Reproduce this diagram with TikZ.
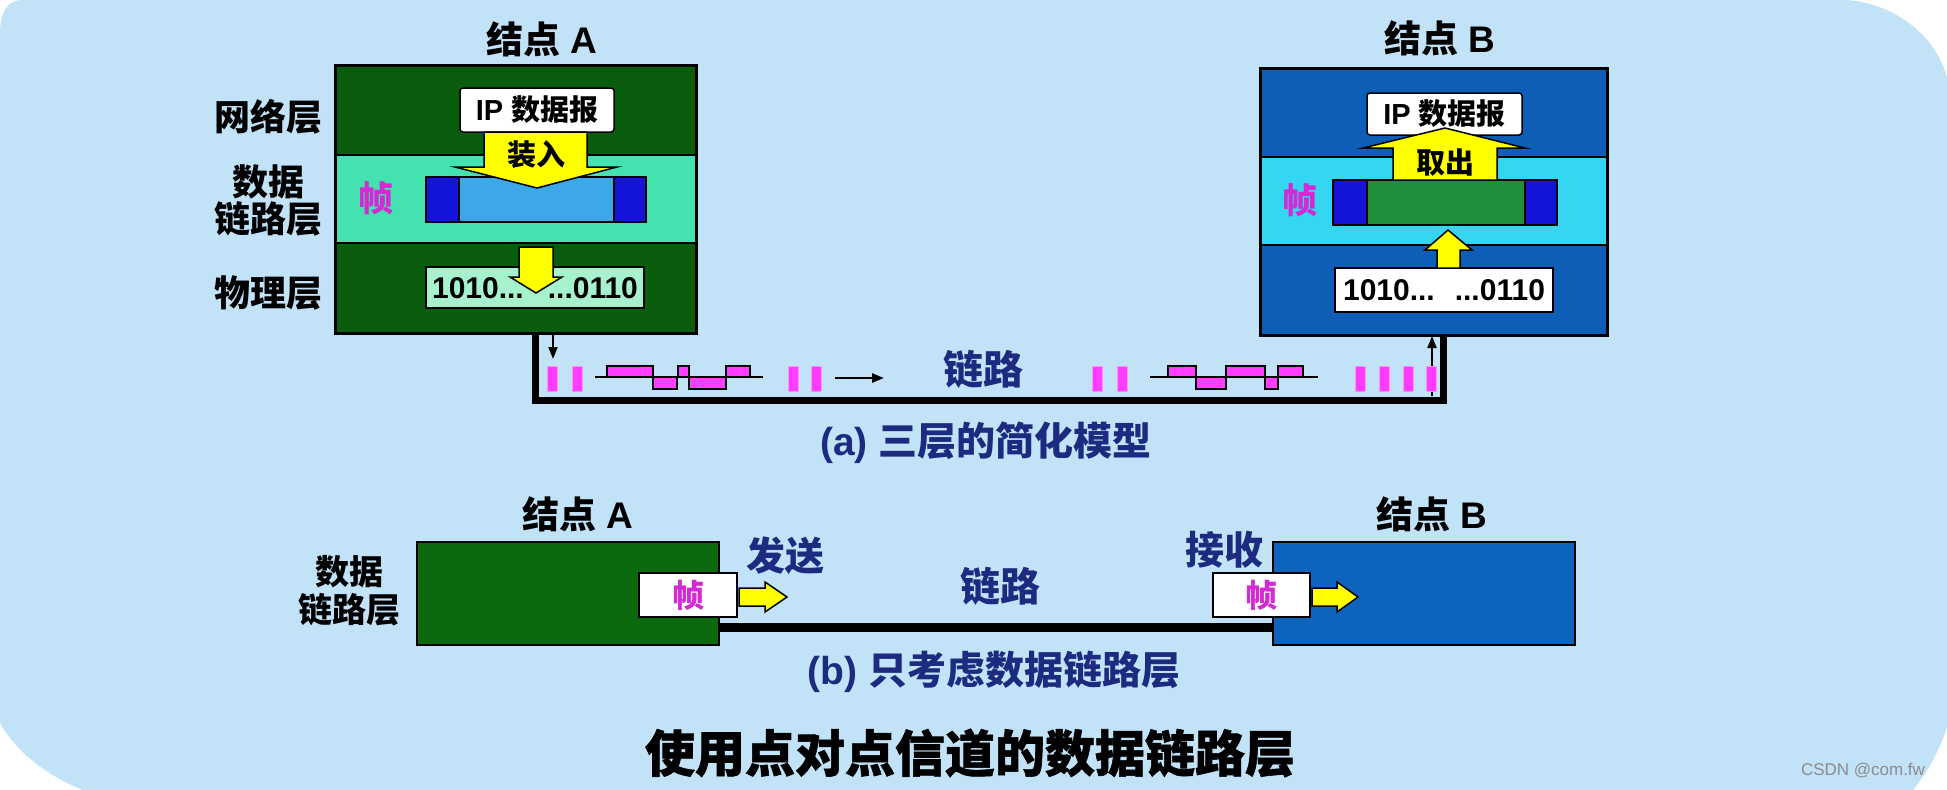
\documentclass[tikz,border=0pt]{standalone}
\usepackage{fontspec}
\setmainfont{Liberation Sans}
\newfontfamily\cjk{Noto Sans CJK SC}
\newfontfamily\cjkh{Noto Sans CJK SC}[BoldFeatures={FakeBold=1.2}]
\usetikzlibrary{arrows.meta}
\definecolor{bg}{HTML}{C2E2F8}
\definecolor{dgreen}{HTML}{0B5D0E}
\definecolor{dgreenb}{HTML}{0B6A0E}
\definecolor{aqua}{HTML}{44E2B0}
\definecolor{mint}{HTML}{A6F2CC}
\definecolor{fblue}{HTML}{3CA8E8}
\definecolor{dblue}{HTML}{1414D8}
\definecolor{nblue}{HTML}{0E5DB6}
\definecolor{nblueb}{HTML}{0E64BC}
\definecolor{cyanl}{HTML}{34D6F2}
\definecolor{fgreen}{HTML}{1F8F3C}
\definecolor{mag}{HTML}{FF3CFF}
\definecolor{magt}{HTML}{D42AD4}
\definecolor{navy}{HTML}{1C2A80}
\definecolor{yel}{HTML}{FFFF00}
\definecolor{wm}{HTML}{8C8C8C}
\newcommand\zh[1]{{\cjk #1}}
\newcommand\fs[1]{\fontsize{#1}{#1}\selectfont\bfseries}
\tikzset{
  every node/.style={inner sep=0pt, outer sep=0pt},
  lay/.style={draw=black, line width=1.5pt, anchor=north west},
  outer/.style={draw=black, line width=3pt, anchor=north west},
  lbl/.style={font=\fs{36}, text=black},
  ttl/.style={font=\fs{37}, text=black},
  blue lbl/.style={font=\fs{39}, text=navy},
  captext/.style={font=\fs{39}, text=navy},
  frm/.style={font=\fs{35}, text=magt},
  ipbox/.style={draw=black, line width=1.5pt, fill=white, rounded corners=3pt, font=\fs{29}},
  bitbox/.style={draw=black, line width=1.5pt, font=\fs{30}},
  yarrow/.style={fill=yel, draw=black, line width=1.5pt},
  part/.style={draw=black, line width=1.5pt},
  bar/.style={fill=mag, draw=mag!55!white, line width=0.8pt},
  wave/.style={fill=mag, draw=black, line width=1.5pt},
  link/.style={draw=black, line width=7pt},
  thinarrow/.style={draw=black, line width=2pt, -{Triangle[length=12pt,width=9pt]}},
}
\begin{document}
\begin{tikzpicture}[x=1pt,y=-1pt]
\useasboundingbox (0,0) rectangle (1947,790);
\fill[white] (0,0) rectangle (1947,790);
\fill[bg] (0,33) .. controls (0,12) and (8,0) .. (22,0) -- (1847,0)
  .. controls (1895,4) and (1935,35) .. (1947,77) -- (1947,727)
  .. controls (1938,755) and (1925,775) .. (1913,790) -- (83,790)
  .. controls (45,775) and (15,750) .. (0,723) -- cycle;

% ===== (a) Node A =====
\node[lay, fill=dgreen, minimum width=361pt, minimum height=90pt] (Anet) at (335,65) {};
\node[lay, fill=aqua, minimum width=361pt, minimum height=88pt] (Adl) at (335,155) {};
\node[lay, fill=dgreen, minimum width=361pt, minimum height=90pt] (Aph) at (335,243) {};
\node[outer, minimum width=361pt, minimum height=268pt] (Abox) at (335,65) {};
\node[ttl] (Atitle) at (542,39) {\zh{结点} A};
\node[lbl] (Lnet) at (268,117) {\zh{网络层}};
\node[lbl] (Ldl1) at (268,182) {\zh{数据}};
\node[lbl] (Ldl2) at (268,219) {\zh{链路层}};
\node[lbl] (Lph) at (268,293) {\zh{物理层}};
\node[ipbox, minimum width=154pt, minimum height=44pt] (Aip) at (537,110) {IP \zh{数据报}};
% frame A
\fill[dblue] (426,177) rectangle (459,222);
\fill[fblue] (459,177) rectangle (614,222);
\fill[dblue] (614,177) rectangle (646,222);
\draw[part] (459,177) -- (459,222) (614,177) -- (614,222);
\node[part, minimum width=220pt, minimum height=45pt, anchor=north west] (Afr) at (426,177) {};
\node[frm] (Afrl) at (376,198) {\zh{帧}};
% arrow 装入
\path[yarrow] (484,132) -- (587,132) -- (587,167) -- (617,167) -- (537,188) -- (455,167) -- (484,167) -- cycle;
\node[font=\fs{29}] (Ain) at (536,155) {\zh{装入}};
% bits A
\node[bitbox, fill=mint, minimum width=218pt, minimum height=41pt, anchor=north west] (Abits) at (426,267) {};
\node[font=\fs{30}] (Abitst) at (535,288) {1010...\hspace{24pt}...0110};
\path[yarrow] (519,247) -- (553,247) -- (553,277) -- (562,277) -- (536,293) -- (510,277) -- (519,277) -- cycle;

% ===== (a) Node B =====
\node[lay, fill=nblue, minimum width=347pt, minimum height=89pt] (Bnet) at (1260,68) {};
\node[lay, fill=cyanl, minimum width=347pt, minimum height=88pt] (Bdl) at (1260,157) {};
\node[lay, fill=nblue, minimum width=347pt, minimum height=90pt] (Bph) at (1260,245) {};
\node[outer, minimum width=347pt, minimum height=267pt] (Bbox) at (1260,68) {};
\node[ttl] (Btitle) at (1440,38) {\zh{结点} B};
\node[ipbox, minimum width=155pt, minimum height=42pt] (Bip) at (1444.5,114) {IP \zh{数据报}};
% frame B
\fill[dblue] (1333,180) rectangle (1367,225);
\fill[fgreen] (1367,180) rectangle (1525,225);
\fill[dblue] (1525,180) rectangle (1557,225);
\draw[part] (1367,180) -- (1367,225) (1525,180) -- (1525,225);
\node[part, minimum width=224pt, minimum height=45pt, anchor=north west] (Bfr) at (1333,180) {};
\node[frm] (Bfrl) at (1300,200) {\zh{帧}};
% arrow 取出
\path[yarrow] (1393,180) -- (1393,148) -- (1363,148) -- (1445,128) -- (1525,148) -- (1497,148) -- (1497,180) -- cycle;
\node[font=\fs{29}] (Bout) at (1445,163) {\zh{取出}};
% bits B
\node[bitbox, fill=white, minimum width=218pt, minimum height=44pt, anchor=north west] (Bbits) at (1335,268) {};
\node[font=\fs{30}] (Bbitst) at (1444,290) {1010...\hspace{20pt}...0110};
\path[yarrow] (1437,268) -- (1437,250) -- (1425,250) -- (1448,230) -- (1472,250) -- (1460,250) -- (1460,268) -- cycle;

% ===== (a) link =====
\coordinate (lA) at (535,400);
\coordinate (lB) at (1443,400);
\draw[link] (lA |- Abox.south) -- (lA) -- (lB) -- (lB |- Bbox.south);
\coordinate (aA1) at (553,333);
\coordinate (aA2) at (553,359);
\draw[thinarrow] (aA1) -- (aA2);
\coordinate (aB1) at (1432,396);
\coordinate (aB2) at (1432,336);
\draw[thinarrow] (aB1) -- (aB2);
\foreach \x in {547,572,788,811,1092,1117,1355,1379,1403,1426}
  \draw[bar] (\x,366) rectangle ++(10,25);
% waveform 1
\draw[wave] (607,366) rectangle (653,377);
\draw[wave] (653,377) rectangle (677,389);
\draw[wave] (678,366) rectangle (689,377);
\draw[wave] (689,377) rectangle (726,389);
\draw[wave] (726,366) rectangle (750,377);
\draw[black, line width=2.5pt] (595,377) -- (763,377);
% waveform 2
\draw[wave] (1168,366) rectangle (1196,377);
\draw[wave] (1196,377) rectangle (1226,389);
\draw[wave] (1226,366) rectangle (1265,377);
\draw[wave] (1265,377) rectangle (1278,389);
\draw[wave] (1278,366) rectangle (1303,377);
\draw[black, line width=2.5pt] (1150,377) -- (1318,377);
\coordinate (r1) at (835,378);
\coordinate (r2) at (884,378);
\draw[thinarrow, line width=2.5pt] (r1) -- (r2);
\node[font=\fs{40}, text=navy] (linka) at (983,369) {\zh{链路}};
\node[captext] (capa) at (986,443) {(a) \zh{三层的简化模型}};

% ===== (b) =====
\node[outer, fill=dgreenb, line width=2.5pt, minimum width=302pt, minimum height=103pt] (bA) at (417,542) {};
\node[outer, fill=nblueb, line width=2.5pt, minimum width=302pt, minimum height=103pt] (bB) at (1273,542) {};
\coordinate (lk) at (0,627);
\draw[black, line width=9pt] (bA.east |- lk) -- (bB.west |- lk);
\node[ttl] (bAt) at (578,514) {\zh{结点} A};
\node[ttl] (bBt) at (1432,514) {\zh{结点} B};
\node[font=\fs{34}] (bL1) at (349,572) {\zh{数据}};
\node[font=\fs{34}] (bL2) at (349,610) {\zh{链路层}};
\node[part, fill=white, minimum width=98pt, minimum height=44pt, anchor=north west] (bAf) at (639,573) {};
\node[font=\fs{32}, text=magt] (bAft) at (bAf) {\zh{帧}};
\path[yarrow] (739,588) -- (765,588) -- (765,582) -- (787,597) -- (765,612) -- (765,606) -- (739,606) -- cycle;
\node[blue lbl] (send) at (785,556) {\zh{发送}};
\node[part, fill=white, minimum width=97pt, minimum height=44pt, anchor=north west] (bBf) at (1213,573) {};
\node[font=\fs{32}, text=magt] (bBft) at (bBf) {\zh{帧}};
\path[yarrow] (1312,588) -- (1337,588) -- (1337,582) -- (1358,597) -- (1337,612) -- (1337,606) -- (1312,606) -- cycle;
\node[blue lbl] (recv) at (1224,550) {\zh{接收}};
\node[font=\fs{40}, text=navy] (linkb) at (1000,586) {\zh{链路}};
\node[captext] (capb) at (994,672) {(b) \zh{只考虑数据链路层}};
\node[font=\fontsize{50}{50}\selectfont\bfseries] (title) at (970,753) {{\cjkh 使用点对点信道的数据链路层}};
\node[font=\fontsize{17}{17}\selectfont, text=wm] (wmk) at (1863,771) {CSDN @com.fw};
\end{tikzpicture}
\end{document}
